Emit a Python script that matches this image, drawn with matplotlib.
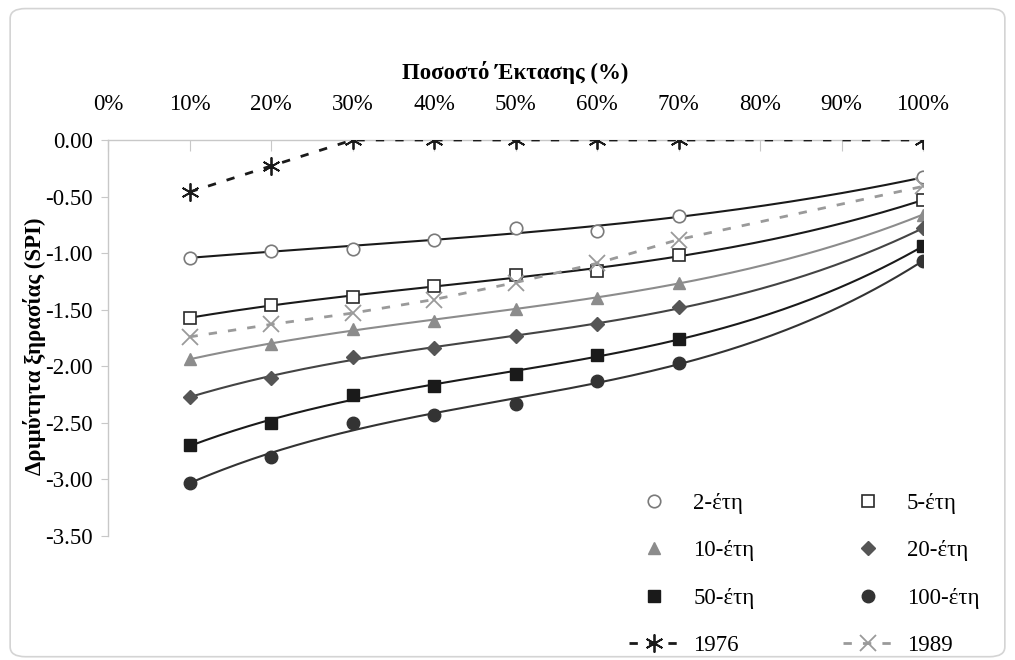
import numpy as np
import matplotlib
matplotlib.use("Agg")
import matplotlib.pyplot as plt
from matplotlib.patches import FancyBboxPatch

plt.rcParams["font.family"] = ["Liberation Serif", "DejaVu Serif"]
plt.rcParams["axes.unicode_minus"] = False

# Percentage of area (%)
area_pct = [10, 20, 30, 40, 50, 60, 70, 100]

# Drought severity (SPI) for each return period
spi_2 = [-1.04, -0.98, -0.96, -0.88, -0.78, -0.80, -0.67, -0.33]
spi_5 = [-1.57, -1.46, -1.39, -1.29, -1.19, -1.16, -1.02, -0.53]
spi_10 = [-1.94, -1.80, -1.67, -1.60, -1.49, -1.40, -1.26, -0.66]
spi_20 = [-2.27, -2.10, -1.92, -1.84, -1.73, -1.63, -1.48, -0.78]
spi_50 = [-2.70, -2.50, -2.25, -2.17, -2.07, -1.90, -1.76, -0.94]
spi_100 = [-3.03, -2.80, -2.50, -2.43, -2.33, -2.13, -1.97, -1.07]

# Historical events
spi_1976 = [-0.46, -0.23, 0.00, 0.00, 0.00, 0.00, 0.00, 0.00]
spi_1989 = [-1.74, -1.63, -1.53, -1.41, -1.26, -1.09, -0.88, -0.41]

x_ticks = [0, 10, 20, 30, 40, 50, 60, 70, 80, 90, 100]
x_tick_labels = [f"{t}%" for t in x_ticks]
y_ticks = [0.0, -0.5, -1.0, -1.5, -2.0, -2.5, -3.0, -3.5]

FS = 16.5

fig = plt.figure(figsize=(10.15, 6.6), dpi=100)
fig.patch.set_facecolor("white")
fig.patches.append(FancyBboxPatch((0.010, 0.005), 0.980, 0.982,
                                  boxstyle="round,pad=0,rounding_size=0.015",
                                  transform=fig.transFigure, facecolor="none",
                                  edgecolor="#d4d4d4", linewidth=1.2))

ax = fig.add_axes([108 / 1015, 124 / 660, 815 / 1015, 396 / 660])

return_series = [
    ("2-έτη", spi_2, dict(marker="o", mfc="white", mec="#7a7a7a", ms=9, mew=1.2), "#1a1a1a"),
    ("5-έτη", spi_5, dict(marker="s", mfc="white", mec="#2a2a2a", ms=9, mew=1.2), "#1a1a1a"),
    ("10-έτη", spi_10, dict(marker="^", mfc="#8c8c8c", mec="#8c8c8c", ms=9), "#8c8c8c"),
    ("20-έτη", spi_20, dict(marker="D", mfc="#555555", mec="#555555", ms=7), "#444444"),
    ("50-έτη", spi_50, dict(marker="s", mfc="#1a1a1a", mec="#1a1a1a", ms=9), "#1a1a1a"),
    ("100-έτη", spi_100, dict(marker="o", mfc="#333333", mec="#333333", ms=9), "#333333"),
]

# cubic trend line through each return-period series
xs = np.array(area_pct, dtype=float)
x_fine = np.linspace(xs.min(), xs.max(), 200)
handles = {}
for label, vals, mstyle, lcolor in return_series:
    coef = np.polyfit(xs, vals, 3)
    ax.plot(x_fine, np.polyval(coef, x_fine), color=lcolor, lw=1.5, zorder=2)
    h, = ax.plot(area_pct, vals, linestyle="none", label=label, zorder=3, **mstyle)
    handles[label] = h

h76, = ax.plot(area_pct, spi_1976, linestyle=(0, (3, 4)), color="#1a1a1a", lw=2,
               marker=(6, 2, 0), ms=13, mew=1.3, mec="#1a1a1a", label="1976", zorder=3)
h89, = ax.plot(area_pct, spi_1989, linestyle=(0, (3, 4)), color="#9a9a9a", lw=2,
               marker="x", ms=11, mew=1.3, mec="#9a9a9a", label="1989", zorder=3)
handles["1976"] = h76
handles["1989"] = h89

ax.set_xlim(0, 100)
ax.set_ylim(-3.5, 0)
ax.xaxis.tick_top()
ax.xaxis.set_label_position("top")
ax.set_xticks(x_ticks)
ax.set_xticklabels(x_tick_labels)
ax.set_yticks(y_ticks)
ax.set_yticklabels([f"{v:.2f}" for v in y_ticks])
ax.tick_params(axis="x", direction="in", length=8, color="#c8c8c8", labelsize=FS, pad=18)
ax.tick_params(axis="y", direction="out", length=5, color="#c8c8c8", labelsize=FS, pad=6)
for side in ("right", "bottom"):
    ax.spines[side].set_visible(False)
for side in ("top", "left"):
    ax.spines[side].set_color("#c8c8c8")
    ax.spines[side].set_linewidth(1.0)
ax.spines["top"].set_zorder(1)

ax.set_xlabel("Ποσοστό Έκτασης (%)", fontsize=FS, fontweight="bold", labelpad=11)
ax.set_ylabel("Δριμύτητα ξηρασίας (SPI)", fontsize=FS, fontweight="bold")
ax.yaxis.set_label_coords(-0.076, 0.48)

order = ["2-έτη", "5-έτη", "10-έτη", "20-έτη", "50-έτη", "100-έτη", "1976", "1989"]
# two-column legend filled row by row
leg_order = order[0::2] + order[1::2]
fig.legend([handles[k] for k in leg_order], leg_order, ncol=2,
           loc="upper left", bbox_to_anchor=(613 / 1015, 1 - 477 / 660),
           frameon=False, fontsize=FS, handlelength=2.2, handletextpad=0.6,
           columnspacing=3.85, labelspacing=1.15, borderpad=0.2)

fig.savefig("out.png", dpi=100, facecolor="white")
